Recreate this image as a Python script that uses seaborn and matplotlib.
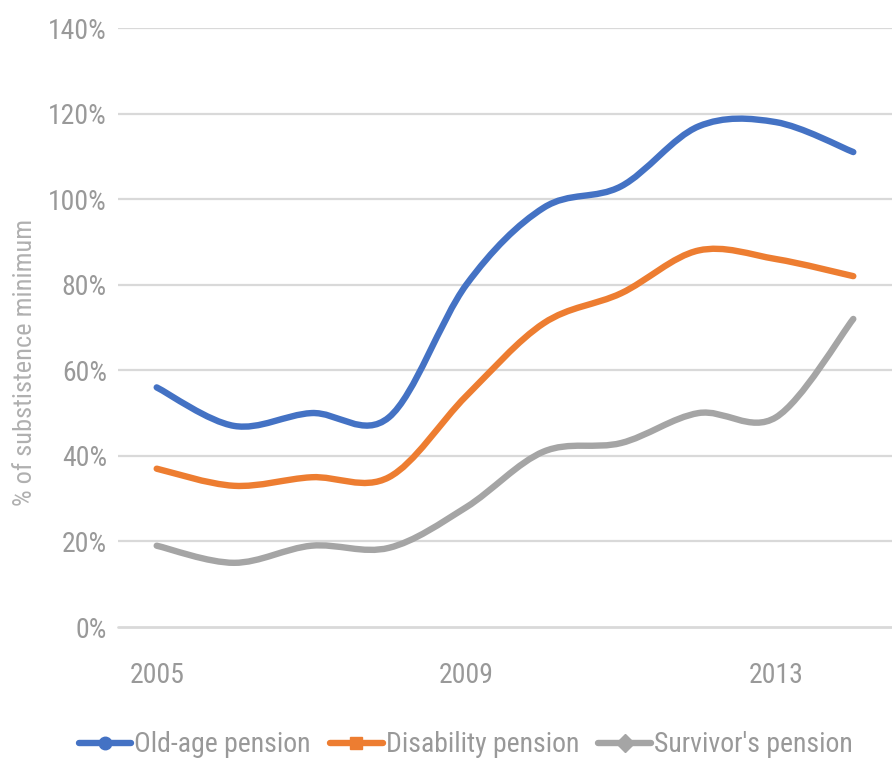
import numpy as np
import pandas as pd
import seaborn as sns
import matplotlib.pyplot as plt
from matplotlib.path import Path
from matplotlib.patches import PathPatch
from matplotlib.lines import Line2D

years = [2005, 2006, 2007, 2008, 2009, 2010, 2011, 2012, 2013, 2014]
old_age = [56, 47, 50, 49, 80, 98, 103, 117, 118, 111]
disability = [37, 33, 35, 35, 54, 71, 78, 88, 86, 82]
survivor = [19, 15, 19, 18.5, 28, 41, 43, 50, 49, 72]

series_names = ["Old-age pension", "Disability pension", "Survivor's pension"]
colors = ["#4472C4", "#ED7D31", "#A5A5A5"]
markers = ["o", "s", "D"]
y_ticks = [0, 20, 40, 60, 80, 100, 120, 140]
x_labels = [2005, 2009, 2013]

df = pd.DataFrame({"year": years, series_names[0]: old_age,
                   series_names[1]: disability, series_names[2]: survivor})

sns.set_style("white")
plt.rcParams['font.family'] = ['Roboto Condensed', 'Archivo Narrow', 'DejaVu Sans']

label_col = "#999999"
grid_col = "#d9d9d9"


def smooth_path(x, y):
    # excel-like smoothed line: cubic bezier segments (catmull-rom control points)
    x = np.asarray(x, float)
    y = np.asarray(y, float)
    pts = np.column_stack([x, y])
    verts = [pts[0]]
    codes = [Path.MOVETO]
    n = len(pts)
    for i in range(n - 1):
        p0 = pts[max(i - 1, 0)]
        p1 = pts[i]
        p2 = pts[i + 1]
        p3 = pts[min(i + 2, n - 1)]
        c1 = p1 + (p2 - p0) / 6.0
        c2 = p2 - (p3 - p1) / 6.0
        verts += [c1, c2, p2]
        codes += [Path.CURVE4] * 3
    return Path(verts, codes)


fig = plt.figure(figsize=(8.92, 7.6), dpi=100)
ax = fig.add_axes([118 / 892, 133 / 760, 774 / 892, 599 / 760])

for name, col in zip(series_names, colors):
    patch = PathPatch(smooth_path(df["year"], df[name]), facecolor="none",
                      edgecolor=col, lw=4.6, capstyle="round",
                      joinstyle="round", clip_on=False, zorder=3)
    ax.add_patch(patch)

ax.set_xlim(2004.5, 2014.5)
ax.set_ylim(0, 140)
ax.set_yticks(y_ticks)
ax.set_yticklabels([f"{v}%" for v in y_ticks])
ax.set_xticks(years)
ax.set_xticklabels([str(y) if y in x_labels else "" for y in years])

for v in y_ticks[1:]:
    ax.axhline(v, color=grid_col, lw=1.6, zorder=1)
ax.axhline(0, color=grid_col, lw=2.0, zorder=1, clip_on=False)

sns.despine(ax=ax, left=True, bottom=True, top=True, right=True)
ax.tick_params(axis="y", length=0, pad=8, labelsize=20, labelcolor=label_col)
ax.tick_params(axis="x", length=13, width=1.6, color=grid_col, direction="out",
               pad=12, labelsize=20, labelcolor=label_col)

ax.set_ylabel("% of substistence minimum", fontsize=19, color="#b0b0b0")
ax.yaxis.set_label_coords(-0.105, 0.442)

handles = [Line2D([0], [0], color=c, lw=4.6, marker=m, markersize=9,
                  solid_capstyle="round", markeredgecolor=c)
           for c, m in zip(colors, markers)]
leg = fig.legend(handles, series_names, loc="center", ncol=3,
                 bbox_to_anchor=(0.522, 0.02), frameon=False, fontsize=20,
                 handlelength=1.9, handletextpad=0.1, columnspacing=0.7)
for t in leg.get_texts():
    t.set_color(label_col)

fig.savefig("out.png", dpi=100)
